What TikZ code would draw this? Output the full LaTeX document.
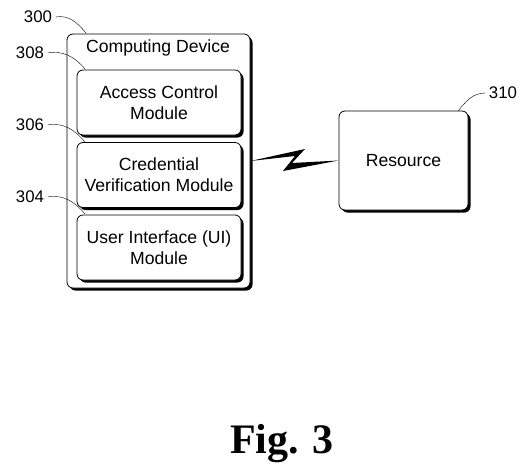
\documentclass[tikz,border=0pt]{standalone}
\usepackage{fontspec}
\setmainfont{Liberation Sans}
\newfontfamily\figfont{Liberation Serif}
\usetikzlibrary{shadows}

\tikzset{
  box/.style={draw, thick, fill=white, rounded corners=6pt,
    drop shadow={shadow xshift=2.5pt, shadow yshift=-2.5pt, opacity=1, fill=black}},
  modbox/.style={box, minimum width=164pt, minimum height=65pt, align=center},
  txt/.style={font=\fontsize{17.6}{21}\selectfont},
  num/.style={font=\fontsize{16.8}{20}\selectfont},
  leader/.style={thin}
}

\begin{document}
\begin{tikzpicture}[x=1pt, y=-1pt, txt]
  \useasboundingbox (0,0) rectangle (528,469);
    \node[box, minimum width=183pt, minimum height=254pt] (dev) at (158.5,161) {};
    \node (title) at (158,48) {Computing Device};
    \node[modbox] (acm) at (159,102.5) {Access Control\\Module};
    \node[modbox] (cvm) at (159,175) {Credential\\Verification Module};
    \node[modbox] (uim) at (159,247.5) {User Interface (UI)\\Module};
    \node[box, minimum width=129pt, minimum height=99pt] (res) at (403.5,160.5) {Resource};
    \node[num] (l300) at (38,17) {300};
    \node[num] (l308) at (30,53) {308};
    \node[num] (l306) at (30,125) {306};
    \node[num] (l304) at (30,197) {304};
    \node[num] (l310) at (503,93) {310};
    \coordinate (c300) at (86,33);
    \coordinate (c308) at (85,69);
    \coordinate (c306) at (85,142);
    \coordinate (c304) at (85,214);
    \coordinate (c310) at (458,111);
    \draw [leader] (l300.east) to[out=10,in=130] (c300);
    \draw [leader] (l308.east) to[out=10,in=130] (c308);
    \draw [leader] (l306.east) to[out=10,in=130] (c306);
    \draw [leader] (l304.east) to[out=10,in=130] (c304);
    \draw [leader] (l310.west) to[out=180,in=50] (c310);
    % wireless link
    \fill (dev.east) -- (305,149) -- (292,163) -- (res.west) -- (283,171) -- (295,156) -- cycle;
    \node[font=\figfont\bfseries\fontsize{42}{42}\selectfont, anchor=base] (fig) at (282,453) {Fig. 3};
  \end{tikzpicture}
\end{document}
